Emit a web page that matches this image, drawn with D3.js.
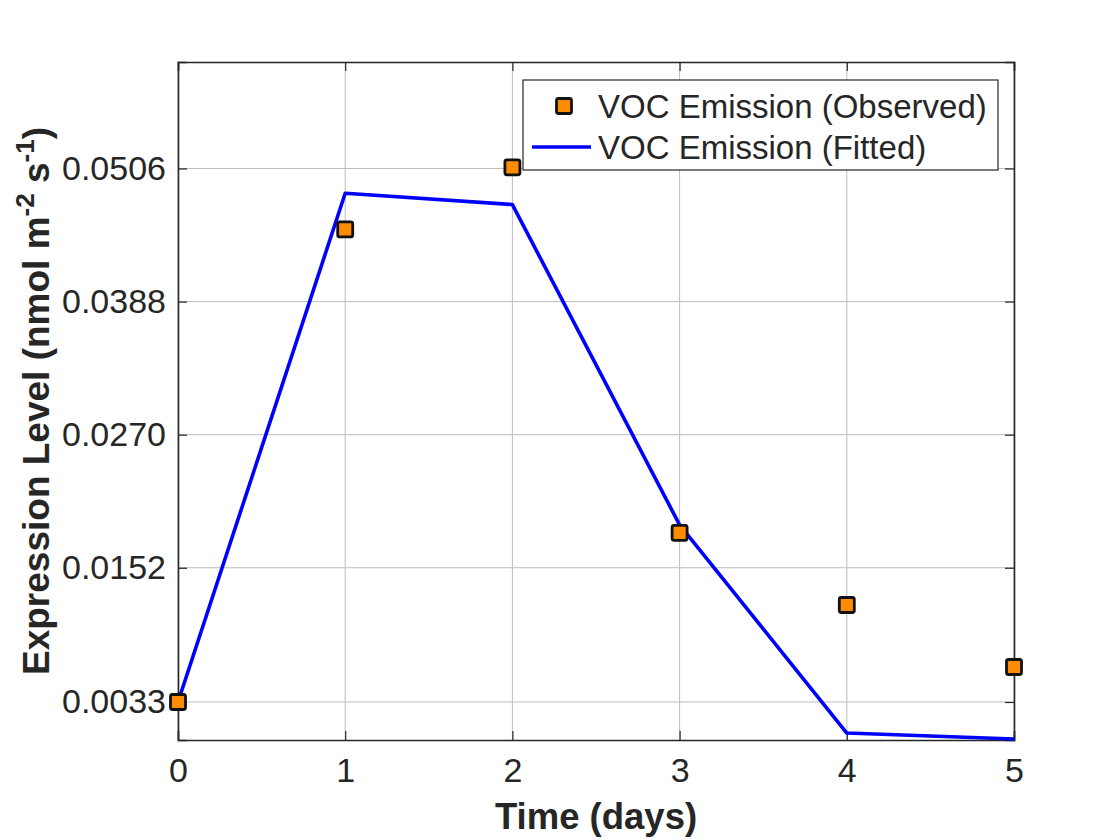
<!DOCTYPE html>
<html>
<head>
<meta charset="utf-8">
<script src="https://cdn.jsdelivr.net/npm/d3@7"></script>
<style>
  body { margin: 0; background: #fff; }
  text { font-family: "Liberation Sans", Arial, sans-serif; fill: #262626; }
</style>
</head>
<body>
<div id="chart"></div>
<script>
// data
var days = [0, 1, 2, 3, 4, 5];
var observed = [0.0033, 0.0452, 0.0507, 0.0183, 0.0119, 0.0064];
var fitted = [0.0033, 0.0484, 0.0474, 0.0190, 0.00055, 0.00002];
var yTicks = [0.0033, 0.0152, 0.0270, 0.0388, 0.0506];
var xTicks = [0, 1, 2, 3, 4, 5];

var svgWidth = 1120;
var svgHeight = 840;

var margin = { top: 62, right: 106, bottom: 100, left: 178 };
var width = svgWidth - margin.left - margin.right;
var height = svgHeight - margin.top - margin.bottom;

var svg = d3.select("#chart")
    .append("svg")
    .attr("width", svgWidth)
    .attr("height", svgHeight);

var chartGroup = svg.append("g")
    .attr("transform", `translate(${margin.left}, ${margin.top})`);

var xScale = d3.scaleLinear().domain([0, 5]).range([0, width]);
var yScale = d3.scaleLinear().domain([-0.00007, 0.06004]).range([height, 0]);

// grid
chartGroup.append("g").selectAll("line")
    .data(xTicks)
    .enter()
    .append("line")
    .attr("x1", d => xScale(d)).attr("x2", d => xScale(d))
    .attr("y1", 0).attr("y2", height)
    .attr("stroke", "#bdbdbd").attr("stroke-width", 1);

chartGroup.append("g").selectAll("line")
    .data(yTicks)
    .enter()
    .append("line")
    .attr("y1", d => yScale(d)).attr("y2", d => yScale(d))
    .attr("x1", 0).attr("x2", width)
    .attr("stroke", "#bdbdbd").attr("stroke-width", 1);

// axes
var bottomAxis = d3.axisBottom(xScale).tickValues(xTicks).tickSize(-9).tickPadding(18).tickFormat(d3.format("d"));
var leftAxis = d3.axisLeft(yScale).tickValues(yTicks).tickSize(-9).tickPadding(12).tickFormat(d3.format(".4f"));
var topAxis = d3.axisTop(xScale).tickValues(xTicks).tickSize(-9).tickFormat("");
var rightAxis = d3.axisRight(yScale).tickValues(yTicks).tickSize(-9).tickFormat("");

function styleAxis(g) {
    g.select(".domain").attr("stroke", "#262626").attr("stroke-width", 1.6);
    g.selectAll(".tick line").attr("stroke", "#262626").attr("stroke-width", 1.2);
    g.selectAll(".tick text").attr("font-size", 34).attr("fill", "#262626")
        .style("font-family", "'Liberation Sans', Arial, sans-serif");
}

chartGroup.append("g").attr("transform", `translate(0, ${height})`).call(bottomAxis).call(styleAxis);
chartGroup.append("g").call(leftAxis).call(styleAxis);
chartGroup.append("g").call(topAxis).call(styleAxis);
chartGroup.append("g").attr("transform", `translate(${width}, 0)`).call(rightAxis).call(styleAxis);

// fitted line
var line = d3.line()
    .x((d, i) => xScale(days[i]))
    .y(d => yScale(d));

chartGroup.append("path")
    .datum(fitted)
    .attr("d", line)
    .attr("fill", "none")
    .attr("stroke", "#0000ff")
    .attr("stroke-width", 3.6)
    .attr("stroke-linejoin", "round");

// observed markers
var mk = 15;
chartGroup.selectAll("rect.obs")
    .data(observed)
    .enter()
    .append("rect")
    .attr("class", "obs")
    .attr("x", (d, i) => xScale(days[i]) - mk / 2)
    .attr("y", d => yScale(d) - mk / 2)
    .attr("width", mk)
    .attr("height", mk)
    .attr("rx", 2)
    .attr("fill", "#ff8c00")
    .attr("stroke", "#111")
    .attr("stroke-width", 2.8);

// axis labels
svg.append("text")
    .attr("x", margin.left + width / 2)
    .attr("y", 829)
    .attr("text-anchor", "middle")
    .attr("font-size", 36.5)
    .attr("font-weight", "bold")
    .text("Time (days)");

var yLabel = svg.append("text")
    .attr("transform", "translate(49, 401) rotate(-90)")
    .attr("text-anchor", "middle")
    .attr("font-size", 37)
    .attr("font-weight", "bold");
yLabel.append("tspan").text("Expression Level (nmol m");
yLabel.append("tspan").attr("baseline-shift", "super").attr("font-size", 26).text("-2");
yLabel.append("tspan").text(" s");
yLabel.append("tspan").attr("baseline-shift", "super").attr("font-size", 26).text("-1");
yLabel.append("tspan").text(")");

// legend
var legend = svg.append("g").attr("transform", "translate(523, 80)");
legend.append("rect")
    .attr("width", 475).attr("height", 90)
    .attr("fill", "#fff").attr("stroke", "#262626").attr("stroke-width", 1.2);

legend.append("rect")
    .attr("x", 41 - mk / 2).attr("y", 26 - mk / 2)
    .attr("width", mk).attr("height", mk).attr("rx", 2)
    .attr("fill", "#ff8c00").attr("stroke", "#111").attr("stroke-width", 2.8);
legend.append("line")
    .attr("x1", 9).attr("x2", 68).attr("y1", 67).attr("y2", 67)
    .attr("stroke", "#0000ff").attr("stroke-width", 3.6);

legend.append("text").attr("x", 75).attr("y", 38).attr("font-size", 33).attr("fill", "#000")
    .text("VOC Emission (Observed)");
legend.append("text").attr("x", 75).attr("y", 79).attr("font-size", 33).attr("fill", "#000")
    .text("VOC Emission (Fitted)");
</script>
</body>
</html>
